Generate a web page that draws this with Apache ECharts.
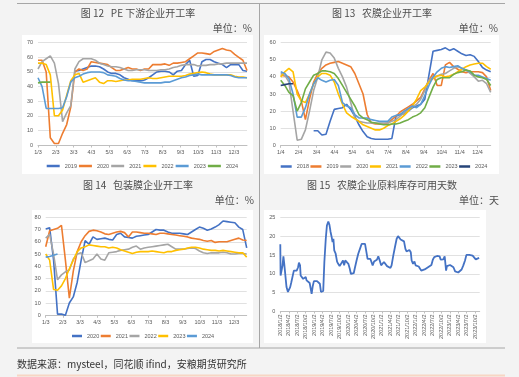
<!DOCTYPE html>
<html>
<head>
<meta charset="utf-8">
<title>开工率与原料库存</title>
<script src="https://cdn.jsdelivr.net/npm/echarts@6/dist/echarts.min.js"></script>
<style>
  html, body { margin: 0; padding: 0; background: #f3f3f3; }
  #main { width: 519px; height: 377px; }
</style>
</head>
<body>
<div id="main"></div>
<script>
// 图12 PE 下游企业开工率 (周度, 自 1/3 起)
var pe2019 = [null,null,null,null,null,null,null,null,null,50.5,51,52,53,54,54,53.5,52,50,49,49,48,46,45,44,44,44,44.5,46,48,50,50.5,50.5,50,48,50.5,51,55,58,47,47.5,57,58.5,58.5,57,56,55,53,55,55,55,51,50.5];
var pe2020 = [58,58,50,5,1,1,8,14,26,50,52,51,52,57,56.5,56,55.5,55,53,51,51,52,53,52,52,51,52,52,55,55,55,55.5,54.5,56,56,56.5,57,59,61,63,63,62.5,62,64,65,66,65,64.5,62,60,58,51];
var pe2021 = [52,57,59,61,56,42,16,22,27,52,57,59,59,59,58,56,55,54,53.5,53.5,53,52,51,51,51.5,51.5,51.5,51,51,51,51.5,51.5,52,53,53.5,54.5,55,55,55,54,54.5,54.5,55,55,55.5,55.5,56,56,56,56,56,56];
var pe2022 = [56,56,55,48,20,20,24,34,44,48,49,43,44,45,46,43,42,44,44,43.5,44,44.5,44.5,45,45,45,45.5,46,45.5,45.5,46,46.5,47,47,47,47,47.5,48.5,49,49.5,50,49.5,48.5,48,48,48,48,48,47,46.5,46.5,46];
var pe2023 = [46,40,25,25,25,25,25.5,33,43,46,47,48.5,49.5,50,50,50,49.5,48,47.5,47,45.5,44.5,44,44,43.5,43,42.5,42.5,42.5,42.5,42.5,43,43,44,45,46,46.5,47.5,48,48.5,48,48,48,48,48,48,48,47.5,46.5,46,46,46];
var pe2024 = [42.5,43,43,43];

// 图13 农膜企业开工率 (周度, 自 1/4 起)
var nm2018 = [null,null,null,null,null,null,null,null,8.5,8.5,6,6.5,14,21,21.5,22,24,21,17,12,8,5,4,3.5,3.5,3.5,3.5,4,17,18,18.5,20,22,23,24,27,41,55,55.5,56,57,55.5,56.5,55,53.5,52.5,53,52,49,45.5,44,43];
var nm2019 = [41,40.5,40,37,32,26,15,27,37,42,45,47,48,48.5,49,48,47,46,42,36,30,18,13,12.5,12.5,12.5,13,15,17,19.5,21,22.5,24,26,28,33,38,42,35,35,47,48.5,46,44.5,43,42.5,43,43,43,42.5,40,32];
var nm2020 = [42,41,37,20,3,3.5,9,20,32,40,50,54.5,54,51,45,40,34,25,16,14,13.5,13,13,13,13,13,13,14,15,17,19,21,22.5,24,27,32,38,40,40.5,41.5,42,43.5,45,46,45,44,42,40,37.5,38,36,31];
var nm2021 = [40,43,45,43,30,26,25,30,36,40,42,42,41,37,30,24,19,17,15.5,14,12,11,10,9,9,10,11.5,12.5,14,15.5,17.5,20,23,27,32,34,37,39,40.5,41,40,40.5,41.5,43,44.5,46,47,47.5,48,48,46,44.5];
var nm2022 = [43,42,39,30,16.5,16.5,22,30,36,39.5,38,37,38,38.5,35,25,23,22,18,16,16,16,15,14.5,14,14,14,16.5,17.5,18,20,21.5,23,22,24,29,35,40,43,45,46,45.5,46,46.5,45,44,43,41,41,40,39,38];
var nm2023 = [38,35,31,29,20,25,33,37,41,42,43.5,43.5,43,42,39,35,31,27,23,18,16,15,13.5,13,12.5,12,12,12.5,12.5,13,14,15,16.5,17.5,19,22,28,34,38.5,39.5,39.5,39.5,41.5,42.5,43,44,43.5,41,40,39.5,38.5,35];
var nm2024 = [35,35.5,36,36];

// 图14 包装膜企业开工率 (周度, 自 1/3 起)
var bz2020 = [70.5,71.5,45,1,1,0,10,15,27,45,61,58,64,62,62.5,63,62,61.5,66,67,64,63.5,63,64.5,65,65.5,66,68,70,69.5,69.5,68,67,67,67,66.5,66,68,70,72,71,69.5,70.5,72,74,77,76.5,76,75.5,72,70,55];
var bz2021 = [56,69,70,71,73.5,45,14,36,52,60,65,68.5,69.5,69,68,66.5,66,67,68,68.5,67.5,64,68,68,67.5,67,67,66.5,66,67,67,66.5,66,65.5,65,64.5,64,63,62.5,62,61,60.5,61,59.5,60,60,60,61,62,63,61.5,61];
var bz2022 = [63,66,50,29,33,35.5,37,46,50,51,43,44.5,46,50,46,45,51,51.5,52,53,53.5,54,55.5,56.5,54,55,55.5,56,56.5,57,57.5,58,56,54,54,54,54.5,55,54.5,52.5,51,50.5,51,51,51,51.5,51,50,50,50.5,50.5,50];
var bz2023 = [50,45,21,20.5,24,30,38,45,52,55,56,57.5,57,56.5,56,56,55,55.5,55,53.5,52.5,51.5,50.5,51.5,52,52,52,52.5,52,51.5,51,52,52,53,53.5,54,55,55.5,55.5,55,54,53.5,53,53,52.5,53,52.5,52,51.5,51,51,47.5];
var bz2024 = [47.5,48,49,50];

// 图15 农膜企业原料库存可用天数 (月份偏移自 2018/1/2)
var invMonth = [0,0.1,0.5,0.8,1.1,1.4,1.8,2.0,2.2,2.7,3.2,3.5,3.9,4.4,4.8,5.3,5.8,6.3,6.6,7.0,7.2,7.7,8.1,8.6,9.0,9.3,9.8,10.4,10.7,11.1,11.5,11.9,12.4,13.0,13.6,14.0,14.4,14.9,15.2,15.6,16.1,16.5,17.0,17.4,17.8,18.2,18.5,18.8,19.1,19.6,20.1,20.5,21.0,21.6,22.2,22.6,23.0,23.6,24.1,24.6,25.0,25.5,26.0,26.4,27.0,27.6,28.2,28.8,29.4,30.0,30.6,30.9,31.4,31.9,32.3,32.7,33.2,33.6,34.2,34.7,35.2,35.7,36.1,36.7,37.2,37.8,38.4,39.0,39.4,40.0,40.6,41.2,41.7,42.1,42.6,43.0,43.3,43.8,44.3,44.7,45.2,45.7,46.2,46.5,47.0,47.5,47.9,48.5,49.0,49.5,49.9,50.5,51.1,51.7,52.3,52.9,53.5,54.0,54.5,55.0,55.5,56.0,56.4,56.8,57.3,57.7,58.2,58.7,59.0,59.5,60.1,60.7,61.3,61.9,62.5,63.0,63.6,64.2,64.8,65.4,65.9,66.4,66.9,67.5,68.1,68.7,69.2,69.8,70.4];
var invDays = [17.9,9.6,9.2,12.3,14.7,12.7,13.2,12.3,6.5,5.2,4.7,6.5,7.8,8.3,10.9,11.4,10.9,11.8,13.0,12.3,9.6,9.2,8.7,8.3,9.2,8.3,7.8,7.6,7.8,4.7,6.8,8.1,8.4,8.1,7.8,7.4,5.2,5.2,5.5,13.2,19.4,22.9,24.0,23.1,21.2,19.8,18.5,19.4,16.3,15.4,13.3,12.7,12.1,12.3,13.6,12.3,13.6,13.4,12.7,11.4,10.0,9.8,10.2,11.6,13.6,15.4,16.7,18.0,18.3,18.0,17.6,14.0,14.5,14.0,13.6,12.3,13.3,13.6,13.8,14.7,13.6,12.3,12.7,13.2,12.7,12.1,11.6,11.6,12.3,14.9,17.2,19.4,20.1,20.1,19.2,18.7,19.2,18.7,16.7,16.0,15.8,16.4,15.8,13.6,12.7,13.3,12.3,12.0,12.0,11.6,10.9,10.9,11.2,11.6,11.8,12.0,12.4,13.8,14.5,14.9,14.8,14.5,14.7,13.8,14.3,13.9,14.7,10.9,12.1,12.4,12.4,12.4,11.8,10.7,10.2,10.4,10.7,11.2,12.3,13.6,15.1,14.9,15.1,15.1,14.9,14.5,13.9,14.0,14.3];

var MONTH = 365 / 12;
var BLUE = '#4472C4', ORANGE = '#ED7D31', GRAY = '#A5A5A5', YELLOW = '#FFC000',
    LBLUE = '#5B9BD5', GREEN = '#70AD47', NAVY = '#264478';
var FONT = '"Noto Sans CJK SC", sans-serif';
var TICKFONT = '"Liberation Sans", Arial, sans-serif';

function weekly(vals) {
  var out = [];
  vals.forEach(function (v, i) { if (v != null) out.push([i * 7, v]); });
  return out;
}
function line(name, data, color, idx, w) {
  return {
    name: name, type: 'line', xAxisIndex: idx, yAxisIndex: idx, data: data,
    symbol: 'none', lineStyle: { width: w || 1.6, color: color }, itemStyle: { color: color }
  };
}
function weekAxis(idx, day, max) {
  return {
    gridIndex: idx, type: 'value', min: 0, max: max, interval: MONTH,
    axisLine: { lineStyle: { color: '#bfbfbf' } },
    axisTick: { length: 2.5, lineStyle: { color: '#bfbfbf' } },
    splitLine: { show: false },
    axisLabel: {
      fontSize: 5.5, color: '#595959', fontFamily: TICKFONT, margin: 4, showMaxLabel: false,
      formatter: function (v) { return (Math.round(v / MONTH) + 1) + '/' + day; }
    }
  };
}
function valAxis(idx, max, step) {
  return {
    gridIndex: idx, type: 'value', min: 0, max: max, interval: step,
    axisLine: { show: false }, axisTick: { show: false },
    splitLine: { lineStyle: { color: '#d9d9d9', width: 0.8 } },
    axisLabel: { fontSize: 5.5, color: '#595959', fontFamily: TICKFONT, margin: 5 }
  };
}
function legend(names, left, top, gap, w) {
  return {
    data: names, left: left, top: top, itemGap: gap, itemWidth: w, itemHeight: 2.5,
    icon: 'rect', padding: 0,
    formatter: function (n) { return n.split('_')[1]; },
    textStyle: { fontSize: 5.5, color: '#595959', fontFamily: TICKFONT }
  };
}
function txt(s, x, y, align, size, color) {
  return { type: 'text', x: x, y: y, z: 5,
    style: { text: s, align: align, verticalAlign: 'middle',
      font: size + 'px ' + FONT, fill: color } };
}
function rect(x, y, w, h) {
  return { type: 'rect', z: -10, shape: { x: x, y: y, width: w, height: h },
    style: { fill: '#ffffff' } };
}
function hline(x1, y1, x2, y2, color, w) {
  return { type: 'line', z: -5, shape: { x1: x1, y1: y1, x2: x2, y2: y2 },
    style: { stroke: color, lineWidth: w } };
}

var series = [
  line('a_2019', weekly(pe2019), BLUE, 0),
  line('a_2020', weekly(pe2020), ORANGE, 0),
  line('a_2021', weekly(pe2021), GRAY, 0),
  line('a_2022', weekly(pe2022), YELLOW, 0),
  line('a_2023', weekly(pe2023), LBLUE, 0),
  line('a_2024', weekly(pe2024), GREEN, 0),
  line('b_2018', weekly(nm2018), BLUE, 1),
  line('b_2019', weekly(nm2019), ORANGE, 1),
  line('b_2020', weekly(nm2020), GRAY, 1),
  line('b_2021', weekly(nm2021), YELLOW, 1),
  line('b_2022', weekly(nm2022), LBLUE, 1),
  line('b_2023', weekly(nm2023), GREEN, 1),
  line('b_2024', weekly(nm2024), NAVY, 1),
  line('c_2020', weekly(bz2020), BLUE, 2),
  line('c_2021', weekly(bz2021), ORANGE, 2),
  line('c_2022', weekly(bz2022), GRAY, 2),
  line('c_2023', weekly(bz2023), YELLOW, 2),
  line('c_2024', weekly(bz2024), LBLUE, 2),
  line('d_库存', invMonth.map(function (m, i) { return [m, invDays[i]]; }), BLUE, 3, 1.8)
];

var chart = echarts.init(document.getElementById('main'));
chart.setOption({
  animation: false,
  backgroundColor: '#f3f3f3',
  grid: [
    { left: 38, top: 42.7, width: 209, height: 102.3 },
    { left: 280.7, top: 42.7, width: 210, height: 102.6 },
    { left: 45.7, top: 217.3, width: 201, height: 98 },
    { left: 280.3, top: 217.7, width: 199.4, height: 93.8 }
  ],
  xAxis: [
    weekAxis(0, 3, 357),
    weekAxis(1, 4, 357),
    weekAxis(2, 3, 357),
    {
      gridIndex: 3, type: 'value', min: 0, max: 70.6, interval: 3,
      axisLine: { lineStyle: { color: '#bfbfbf' } },
      axisTick: { length: 2, lineStyle: { color: '#bfbfbf' } },
      splitLine: { show: false },
      axisLabel: {
        rotate: 90, fontSize: 5.5, color: '#595959', fontFamily: TICKFONT, margin: 3,
        showMaxLabel: false,
        formatter: function (v) { return (2018 + Math.floor(v / 12)) + '/' + (v % 12 + 1) + '/2'; }
      }
    }
  ],
  yAxis: [valAxis(0, 70, 10), valAxis(1, 60, 10), valAxis(2, 80, 10), valAxis(3, 25, 5)],
  legend: [
    legend(['a_2019', 'a_2020', 'a_2021', 'a_2022', 'a_2023', 'a_2024'], 46.7, 163, 2, 13),
    legend(['b_2018', 'b_2019', 'b_2020', 'b_2021', 'b_2022', 'b_2023', 'b_2024'], 280.7, 163.5, 1.5, 11),
    legend(['c_2020', 'c_2021', 'c_2022', 'c_2023', 'c_2024'], 72, 333, 1.5, 10)
  ],
  series: series,
  graphic: [
    rect(22, 35, 231, 139),
    rect(264, 35, 235, 139),
    rect(32, 210, 221, 133),
    rect(264, 210, 222, 133),
    hline(17, 3.5, 505, 3.5, '#a6a6a6', 1),
    hline(259.5, 3.5, 259.5, 348, '#a6a6a6', 1),
    hline(17, 348, 505, 348, '#a6a6a6', 1),
    hline(17, 375.5, 505, 375.5, '#f7d6c4', 2),
    txt('图 12   PE 下游企业开工率', 138, 13, 'center', 10, '#4d4d4d'),
    txt('单位：%', 252, 28, 'right', 10, '#4d4d4d'),
    txt('图 13   农膜企业开工率', 382, 13, 'center', 10, '#4d4d4d'),
    txt('单位：%', 498, 28, 'right', 10, '#4d4d4d'),
    txt('图 14   包装膜企业开工率', 138, 185.5, 'center', 10, '#4d4d4d'),
    txt('单位：%', 254, 200, 'right', 10, '#4d4d4d'),
    txt('图 15   农膜企业原料库存可用天数', 382, 185.5, 'center', 10, '#4d4d4d'),
    txt('单位：天', 499, 200, 'right', 10, '#4d4d4d'),
    txt('数据来源：mysteel，同花顺 ifind，安粮期货研究所', 17, 364.5, 'left', 10, '#333333')
  ]
});
</script>
</body>
</html>
